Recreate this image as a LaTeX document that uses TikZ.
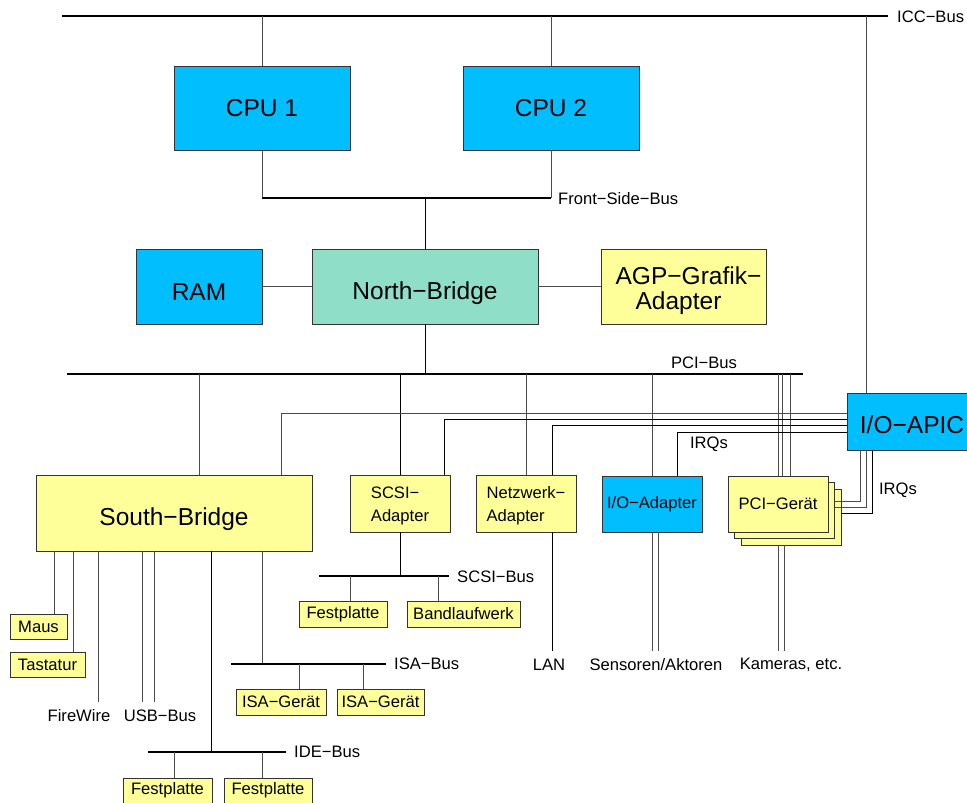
\documentclass[tikz,border=0pt]{standalone}
\usepackage{fontspec}
\setmainfont{Liberation Sans}
\usetikzlibrary{calc}
\definecolor{cpub}{RGB}{0,190,255}
\definecolor{nbg}{RGB}{142,222,200}
\definecolor{yel}{RGB}{255,255,153}
\newcommand\lowr[2]{\raisebox{-#1}[\height][\depth]{#2}}
\begin{document}
\begin{tikzpicture}[x=1pt,y=-1pt,
 box/.style={draw=black!80,line width=0.8pt,inner sep=0pt,outer sep=0pt},
 big/.style={font=\fontsize{24.5}{24.5}\selectfont},
 med/.style={font=\fontsize{16.6}{23}\selectfont},
 wire/.style={line width=0.8pt,black!70},
 bwire/.style={line width=0.8pt,black},
 bus/.style={line width=2pt,black},
 lbl/.style={font=\fontsize{16.6}{20}\selectfont,inner sep=0pt}]
\useasboundingbox (0,0) rectangle (967,803);

% boxes
\node[box,fill=cpub,big,minimum width=176pt,minimum height=84pt] (cpu1) at (262,108) {CPU 1};
\node[box,fill=cpub,big,minimum width=176pt,minimum height=84pt] (cpu2) at (551,108) {CPU 2};
\node[box,fill=cpub,big,minimum width=126pt,minimum height=75pt] (ram) at (199,286.5) {\lowr{6pt}{RAM}};
\node[box,fill=nbg,big,minimum width=226pt,minimum height=75pt] (nb) at (425,286.5) {\lowr{7pt}{North−Bridge}};
\node[box,fill=yel,big,minimum width=165pt,minimum height=75pt] (agp) at (683.5,286.5) {\lowr{5pt}{\begin{tabular}{@{}l@{}}\hspace*{10pt}AGP−Grafik−\\\hspace*{30pt}Adapter\end{tabular}}};
\node[box,fill=cpub,big,minimum width=130pt,minimum height=57pt] (apic) at (912,421.5) {\lowr{3pt}{I/O−APIC}};
\node[box,fill=yel,big,minimum width=276pt,minimum height=76pt] (sb) at (174,513) {\lowr{6pt}{South−Bridge}};
\node[box,fill=yel,med,minimum width=100pt,minimum height=57pt] (scsi) at (400,503.5) {\lowr{2pt}{\begin{tabular}{@{}l@{}}SCSI−\\Adapter\end{tabular}}};
\node[box,fill=yel,med,minimum width=100pt,minimum height=57pt] (netz) at (526,503.5) {\lowr{2pt}{\begin{tabular}{@{}l@{}}Netzwerk−\\Adapter\end{tabular}}};
\node[box,fill=cpub,med,minimum width=100pt,minimum height=56pt] (ioad) at (652,504) {I/O−Adapter};
\node[box,fill=yel,minimum width=100pt,minimum height=56pt] (pci3) at (791,517) {};
\node[box,fill=yel,minimum width=100pt,minimum height=56pt] (pci2) at (784.5,510.5) {};
\node[box,fill=yel,med,minimum width=100pt,minimum height=56pt] (pci) at (778,504) {PCI−Gerät};
\node[box,fill=yel,med,minimum width=57pt,minimum height=25pt] (maus) at (38.5,626.5) {Maus};
\node[box,fill=yel,med,minimum width=75pt,minimum height=25pt] (tast) at (47.5,664.5) {Tastatur};
\node[box,fill=yel,med,minimum width=88pt,minimum height=26pt] (fp1) at (343,614) {Festplatte};
\node[box,fill=yel,med,minimum width=113pt,minimum height=26pt] (band) at (463.5,614) {Bandlaufwerk};
\node[box,fill=yel,med,minimum width=90pt,minimum height=26pt] (isa1) at (281,702) {ISA−Gerät};
\node[box,fill=yel,med,minimum width=87pt,minimum height=26pt] (isa2) at (380.5,702) {ISA−Gerät};
\node[box,fill=yel,med,minimum width=89pt,minimum height=25pt] (fp2) at (167.5,790.5) {Festplatte};
\node[box,fill=yel,med,minimum width=88pt,minimum height=25pt] (fp3) at (268,790.5) {Festplatte};

% ICC bus
\coordinate (iccL) at (62,16);
\coordinate (iccR) at (888,16);
\draw[bus] (iccL) -- (iccR);
\node[lbl,anchor=west] (icclbl) at (897,17) {ICC−Bus};
\draw[wire] (cpu1.north) -- (cpu1.north |- iccL);
\draw[wire] (cpu2.north) -- (cpu2.north |- iccL);
\coordinate (apicT) at ($(apic.north west)+(19,0)$);
\draw[wire] (apicT) -- (apicT |- iccL);

% FSB
\coordinate (fsbL) at (262,198);
\coordinate (fsbR) at (551,198);
\draw[wire] (cpu1.south) -- (fsbL);
\draw[wire] (cpu2.south) -- (fsbR);
\draw[bus] (fsbL) -- (fsbR);
\node[lbl,anchor=west] (fsblbl) at (558,199) {Front−Side−Bus};
\draw[bwire] (nb.north) -- (nb.north |- fsbL);
\draw[wire] (ram.east) -- (nb.west);
\draw[wire] (nb.east) -- (agp.west);

% PCI bus
\coordinate (pciL) at (67,374);
\coordinate (pciR) at (803,374);
\draw[bus] (pciL) -- (pciR);
\node[lbl] (pcilbl) at (704,363) {PCI−Bus};
\draw[bwire] (nb.south) -- (nb.south |- pciL);
\coordinate (sbT) at ($(sb.north west)+(163,0)$);
\draw[wire] (sbT) -- (sbT |- pciL);
\draw[bwire] (scsi.north) -- (scsi.north |- pciL);
\draw[wire] (netz.north) -- (netz.north |- pciL);
\draw[wire] (ioad.north) -- (ioad.north |- pciL);
\foreach \dx/\n in {50/a,54/b,62/c}{
  \coordinate (pciT\n) at ($(pci.north west)+(\dx,0)$);
  \draw[wire] (pciT\n) -- (pciT\n |- pciL);}

% APIC interrupt lines
\draw[wire] ($(apic.north west)+(0,20)$) -| ($(sb.north west)+(245,0)$);
\draw[bwire] ($(apic.north west)+(0,26)$) -| ($(scsi.north west)+(94,0)$);
\draw[bwire] ($(apic.north west)+(0,32)$) -| ($(netz.north west)+(76,0)$);
\draw[bwire] ($(apic.north west)+(0,39)$) -| ($(ioad.north west)+(75,0)$);
\node[lbl] (irq1) at (709,444) {IRQs};
\draw[wire] ($(apic.south west)+(13,0)$) |- ($(pci2.north east)+(0,18.5)$);
\draw[wire] ($(apic.south west)+(19,0)$) |- ($(pci2.north east)+(0,24.5)$);
\draw[bwire] ($(apic.south west)+(25,0)$) |- ($(pci3.north east)+(0,24)$);
\node[lbl] (irq2) at (898,490) {IRQs};

% lower outputs
\coordinate (netzB) at ($(netz.south west)+(76,0)$);
\coordinate (lan) at ($(netzB)+(0,119)$);
\draw[bwire] (netzB) -- (lan);
\node[lbl] (lanlbl) at (549,665) {LAN};
\draw[wire] (ioad.south) -- ($(ioad.south)+(0,119)$);
\draw[wire] ($(ioad.south)+(6,0)$) -- ($(ioad.south)+(6,119)$);
\node[lbl] (senslbl) at (656,665) {Sensoren/Aktoren};
\draw[wire] ($(pci3.south west)+(37,0)$) -- ($(pci3.south west)+(37,106)$);
\draw[wire] ($(pci3.south west)+(43,0)$) -- ($(pci3.south west)+(43,106)$);
\node[lbl] (kamlbl) at (791,665) {Kameras, etc.};

% SCSI bus
\coordinate (scsiL) at (319,576);
\coordinate (scsiR) at (449,576);
\draw[bwire] (scsi.south) -- (scsi.south |- scsiL);
\draw[bus] (scsiL) -- (scsiR);
\node[lbl,anchor=west] (scsilbl) at (457,577) {SCSI−Bus};
\coordinate (fp1T) at ($(fp1.north west)+(51,0)$);
\coordinate (bandT) at ($(band.north west)+(31,0)$);
\draw[wire] (fp1T) -- (fp1T |- scsiL);
\draw[wire] (bandT) -- (bandT |- scsiL);

% South-Bridge outputs
\coordinate (mausT) at ($(maus.north west)+(44,0)$);
\coordinate (tastT) at ($(tast.north west)+(63,0)$);
\draw[wire] (mausT) -- (mausT |- sb.south);
\draw[wire] (tastT) -- (tastT |- sb.south);
\coordinate (fw) at (98,702);
\draw[wire] (fw) -- (fw |- sb.south);
\node[lbl] (fwlbl) at (79,716) {FireWire};
\coordinate (usb1) at (142,702);
\coordinate (usb2) at (154,702);
\draw[wire] (usb1) -- (usb1 |- sb.south);
\draw[wire] (usb2) -- (usb2 |- sb.south);
\node[lbl] (usblbl) at (160,716) {USB−Bus};

% IDE bus
\coordinate (ideL) at (148,752);
\coordinate (ideR) at (286,752);
\coordinate (sbIDE) at ($(sb.south west)+(175,0)$);
\draw[bwire] (sbIDE) -- (sbIDE |- ideL);
\draw[bus] (ideL) -- (ideR);
\node[lbl,anchor=west] (idelbl) at (294,752) {IDE−Bus};
\coordinate (fp2T) at ($(fp2.north west)+(51,0)$);
\coordinate (fp3T) at ($(fp3.north west)+(38,0)$);
\draw[wire] (fp2T) -- (fp2T |- ideL);
\draw[wire] (fp3T) -- (fp3T |- ideL);

% ISA bus
\coordinate (isaL) at (231,664);
\coordinate (isaR) at (386,664);
\coordinate (sbISA) at ($(sb.south west)+(226,0)$);
\draw[wire] (sbISA) -- (sbISA |- isaL);
\draw[bus] (isaL) -- (isaR);
\node[lbl,anchor=west] (isalbl) at (394,664) {ISA−Bus};
\coordinate (isa1T) at ($(isa1.north west)+(63,0)$);
\coordinate (isa2T) at ($(isa2.north west)+(26,0)$);
\draw[wire] (isa1T) -- (isa1T |- isaL);
\draw[wire] (isa2T) -- (isa2T |- isaL);
\end{tikzpicture}
\end{document}
